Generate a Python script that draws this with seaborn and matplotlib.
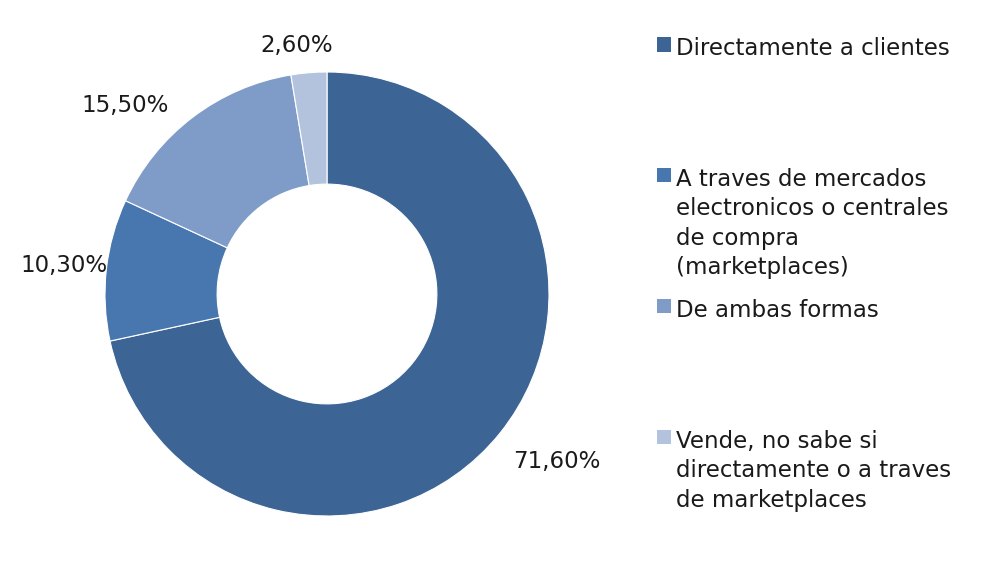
import numpy as np
import seaborn as sns
from matplotlib import pyplot as plt

# datos del grafico
categorias = ['Directamente a clientes',
              'A traves de mercados\nelectronicos o centrales\nde compra\n(marketplaces)',
              'De ambas formas',
              'Vende, no sabe si\ndirectamente o a traves\nde marketplaces']
valores = [71.6, 10.3, 15.5, 2.6]
colores = ['#3c6595', '#4877b0', '#7f9cc8', '#b3c3de']

# posicion de las etiquetas (distancia al centro y ajuste de angulo)
dist_etiquetas = [1.28, 1.19, 1.245, 1.127]
ajuste_angulo = [2.8, 0.0, 9.7, 2.2]

sns.set_theme(style='white')
plt.rcParams['font.family'] = ['DejaVu Sans']
tam = 16.5

fig = plt.figure(figsize=(9.83, 5.75), dpi=100)
ax = fig.add_axes([105 / 983, 59 / 575, 444 / 983, 444 / 575])

wedges, _ = ax.pie(valores, colors=colores, startangle=90, counterclock=False,
                   radius=1, wedgeprops=dict(width=0.505, edgecolor='white', linewidth=0.8))
ax.set_xlim(-1, 1)
ax.set_ylim(-1, 1)
ax.set_aspect('equal')

# etiquetas de porcentaje fuera de cada porcion
for w, v, d, a in zip(wedges, valores, dist_etiquetas, ajuste_angulo):
    ang = np.deg2rad((w.theta1 + w.theta2) / 2 + a)
    txt = f'{v:.2f}'.replace('.', ',') + '%'
    ax.text(d * np.cos(ang), d * np.sin(ang), txt, ha='center', va='center',
            fontsize=tam, color='#1a1a1a', clip_on=False)

# leyenda con cada entrada en un bloque de 4 lineas
etiquetas_leyenda = [c + '\n' * (3 - c.count('\n')) for c in categorias]
leg = fig.legend(wedges, etiquetas_leyenda, loc='upper left',
                 bbox_to_anchor=(657 / 983, 1 - 37 / 575), frameon=False,
                 fontsize=tam, handlelength=0.6, handleheight=0.6,
                 handletextpad=0.25, labelspacing=0.85, borderpad=0, borderaxespad=0)
for t in leg.get_texts():
    t.set_linespacing(1.36)
    t.set_color('#1a1a1a')
for col in leg._legend_handle_box.get_children():
    for fila in col.get_children():
        fila.align = 'top'
for h in leg.legend_handles:
    h.set_edgecolor('none')

fig.savefig('out.png', dpi=100, facecolor='white')
